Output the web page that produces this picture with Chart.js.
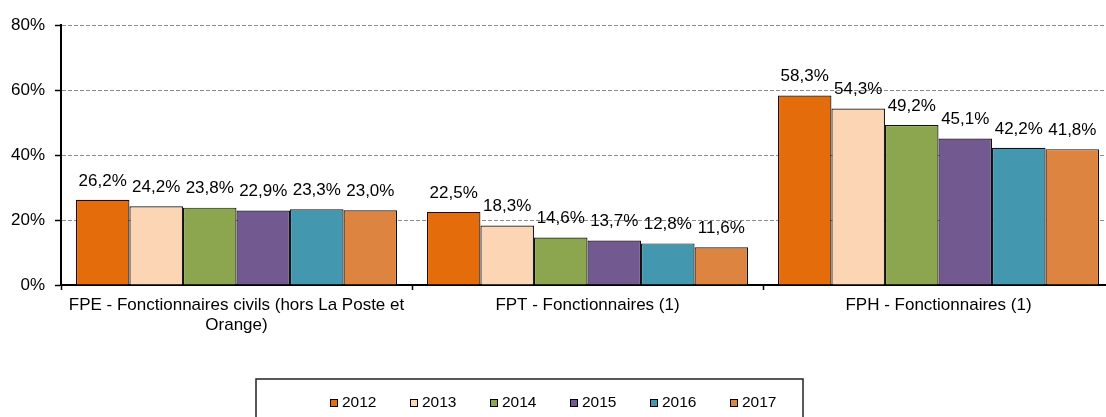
<!DOCTYPE html>
<html>
<head>
<meta charset="utf-8">
<script src="https://cdn.jsdelivr.net/npm/chart.js@4"></script>
<style>
  body { margin: 0; overflow: hidden; background: #fff; }
</style>
</head>
<body>
<canvas id="chart" width="1120" height="417"></canvas>
<script>
// categories and values
const categories = [
  ["FPE - Fonctionnaires civils (hors La Poste et", "Orange)"],
  "FPT - Fonctionnaires (1)",
  "FPH - Fonctionnaires (1)"
];
const years = ["2012", "2013", "2014", "2015", "2016", "2017"];
const v2012 = [26.2, 22.5, 58.3];
const v2013 = [24.2, 18.3, 54.3];
const v2014 = [23.8, 14.6, 49.2];
const v2015 = [22.9, 13.7, 45.1];
const v2016 = [23.3, 12.8, 42.2];
const v2017 = [23.0, 11.6, 41.8];
const yTicks = [0, 20, 40, 60, 80];

const colors = ["#E46C0A", "#FCD5B5", "#8CA64F", "#72598F", "#4398B0", "#DD8440"];
const series = [v2012, v2013, v2014, v2015, v2016, v2017];
const FONT = "'Liberation Sans', Arial, sans-serif";

const fmt = (v) => v.toFixed(1).replace(".", ",") + "%";

// value labels above each bar
const barLabels = {
  id: "barLabels",
  afterDatasetsDraw(chart) {
    const ctx = chart.ctx;
    ctx.save();
    ctx.font = "17px " + FONT;
    ctx.fillStyle = "#000";
    ctx.textAlign = "center";
    ctx.textBaseline = "middle";
    chart.data.datasets.forEach((ds, i) => {
      chart.getDatasetMeta(i).data.forEach((bar, j) => {
        ctx.fillText(fmt(ds.data[j]), bar.x, bar.y - 19);
      });
    });
    ctx.restore();
  }
};

// boxed legend like the excel one
const boxLegend = {
  id: "boxLegend",
  afterDraw(chart) {
    const ctx = chart.ctx;
    const x0 = 330, step = 80, cy = 403;
    ctx.save();
    ctx.strokeStyle = "#222";
    ctx.lineWidth = 1.5;
    ctx.strokeRect(256, 379, 547, 60);
    ctx.font = "15.5px " + FONT;
    ctx.textBaseline = "middle";
    ctx.textAlign = "left";
    chart.data.datasets.forEach((ds, i) => {
      const x = x0 + i * step;
      ctx.fillStyle = ds.backgroundColor;
      ctx.fillRect(x, cy - 4, 7, 7);
      ctx.strokeStyle = "#000";
      ctx.lineWidth = 1;
      ctx.strokeRect(x + 0.5, cy - 3.5, 7, 7);
      ctx.fillStyle = "#000";
      ctx.fillText(ds.label, x + 12, cy);
    });
    ctx.restore();
  }
};

new Chart(document.getElementById("chart"), {
  type: "bar",
  data: {
    labels: categories,
    datasets: years.map((y, i) => ({
      label: y,
      data: series[i],
      backgroundColor: colors[i],
      borderColor: "#111",
      borderWidth: 1.2,
      categoryPercentage: 0.915,
      barPercentage: 1
    }))
  },
  options: {
    responsive: false,
    animation: false,
    layout: { padding: { top: 25, right: 6, left: 0, bottom: 0 } },
    plugins: {
      legend: { display: false },
      tooltip: { enabled: false }
    },
    scales: {
      x: {
        afterFit: (scale) => { scale.height = 132; },
        grid: {
          display: true,
          drawOnChartArea: false,
          tickLength: 5,
          tickColor: "#000",
          tickWidth: 1.5
        },
        border: { color: "#000", width: 2 },
        ticks: {
          color: "#000",
          padding: 6,
          font: { family: FONT, size: 17, lineHeight: 1.15 }
        }
      },
      y: {
        min: 0,
        max: 80,
        afterFit: (scale) => { scale.width = 61; },
        afterBuildTicks: (scale) => { scale.ticks = yTicks.map((v) => ({ value: v })); },
        grid: {
          color: "#8c8c8c",
          lineWidth: 1,
          tickLength: 6,
          tickColor: "#000",
          tickWidth: 1.5,
          tickBorderDash: []
        },
        border: { color: "#000", width: 2, dash: [4, 2] },
        ticks: {
          color: "#000",
          padding: 10,
          font: { family: FONT, size: 17 },
          callback: (v) => v + "%"
        }
      }
    }
  },
  plugins: [barLabels, boxLegend]
});
</script>
</body>
</html>
